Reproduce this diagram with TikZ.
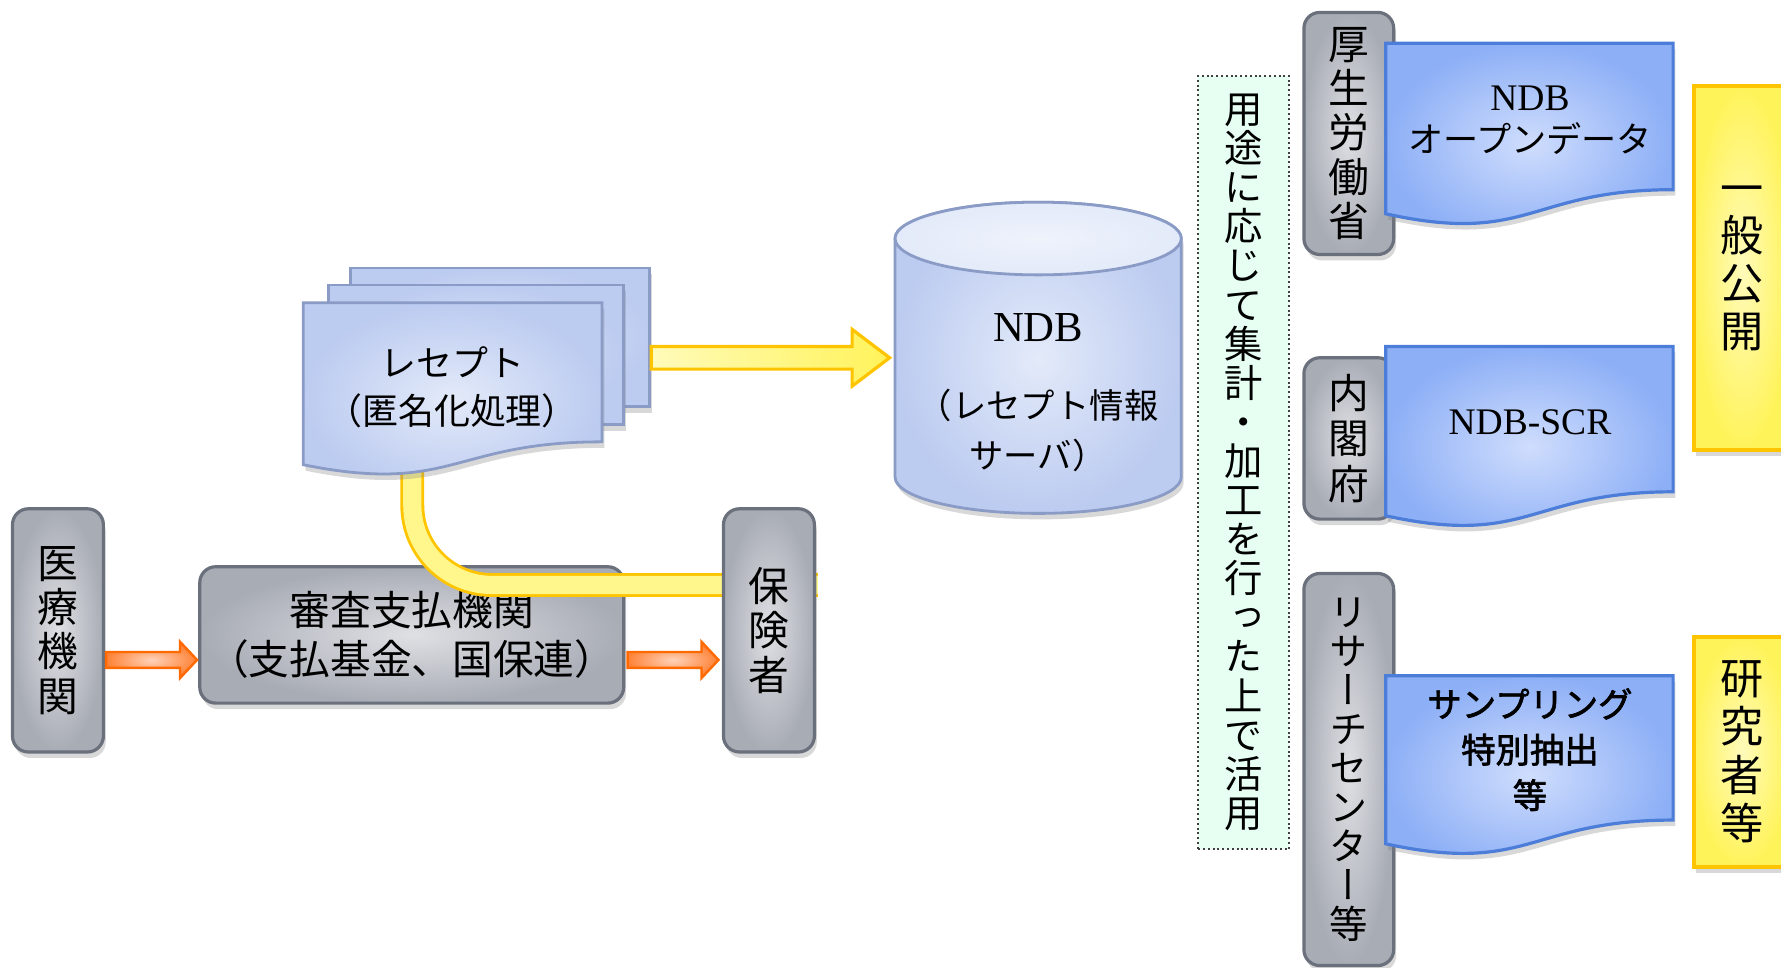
\documentclass[tikz,border=0pt]{standalone}
\usepackage{fontspec}
\setmainfont{Liberation Serif}
\newfontfamily\jp{Noto Sans CJK JP}
\newfontfamily\jpv[RawFeature=+vert]{Noto Sans CJK JP}
\newfontfamily\jpb[AutoFakeBold=2]{Noto Sans CJK JP}
\usetikzlibrary{calc,shadows}

\definecolor{grayedge}{HTML}{A8ACB5}
\definecolor{graymid}{HTML}{DFE0E4}
\definecolor{grayline}{HTML}{6A707C}
\definecolor{palemid}{HTML}{E3EAF9}
\definecolor{paleedge}{HTML}{BCCBF0}
\definecolor{paleline}{HTML}{8A9BC6}
\definecolor{bluemid}{HTML}{CFDDFD}
\definecolor{blueedge}{HTML}{8DAFF6}
\definecolor{blueline}{HTML}{4C7DD8}
\definecolor{yelmid}{HTML}{FFFBBA}
\definecolor{yeledge}{HTML}{FFF35A}
\definecolor{yelline}{HTML}{FFC400}
\definecolor{yelband}{HTML}{FFF78C}
\definecolor{orgmid}{HTML}{FFD2B8}
\definecolor{orgedge}{HTML}{FF8236}
\definecolor{orgline}{HTML}{FF6A00}
\definecolor{mint}{HTML}{E6FFF2}

% wave-bottomed document: style, left x, top y, right x, bottom y at the right
\newcommand\docshape[5]{%
  \path[#1] (#2,#3) -- (#4,#3) -- (#4,#5)
    .. controls ({(#2+#4)/2},#5) and ({(#2+#4)/2},{#3+1.381*(#5-#3)}) .. (#2,{#3+1.1646*(#5-#3)}) -- cycle;}
% flat block arrow: style, from, to, shaft half, head half, head length
\newcommand\blockarrow[6]{%
  \path[#1] let \p1=#2, \p2=#3 in
    (\x1,{\y1+#4}) -- ({\x2-#6},{\y1+#4}) -- ({\x2-#6},{\y1+#5}) -- (\x2,\y1)
    -- ({\x2-#6},{\y1-#5}) -- ({\x2-#6},{\y1-#4}) -- (\x1,{\y1-#4}) -- cycle;}

\tikzset{
  boxshadow/.style={drop shadow={opacity=0.3,shadow xshift=0.6pt,shadow yshift=-1.5pt}},
  graybox/.style={draw=grayline, line width=0.8pt, rounded corners=0.14cm, inner color=graymid, outer color=grayedge, boxshadow, inner sep=0pt},
  vtext/.style={font=\jpv\fontsize{10.2}{11.1}\selectfont, align=center},
  paledoc/.style={draw=paleline, line width=0.7pt, inner color=palemid, outer color=paleedge},
  bluedoc/.style={draw=blueline, line width=0.8pt, inner color=bluemid, outer color=blueedge, boxshadow},
  yelbox/.style={draw=yelline, line width=1pt, inner color=yelmid, outer color=yeledge, boxshadow, inner sep=0pt},
  yelarrow/.style={draw=yelline, line width=0.8pt, left color=yelmid, right color=yeledge},
  orgarrow/.style={draw=orgline, line width=0.6pt, inner color=orgmid, outer color=orgedge},
  yband/.style={line width=0.025cm, draw=yelline, double=yelband, double distance=0.16cm},
  memo/.style={draw=black!75, line width=0.5pt, dash pattern=on 0.5pt off 0.7pt, fill=mint, inner sep=0pt},
  doctext/.style={font=\fontsize{9.4}{10.5}\selectfont, align=center},
}

\begin{document}
\begin{tikzpicture}[x=0.01cm,y=-0.01cm]
  \useasboundingbox (0,0) rectangle (1568,852);
  \clip (0,0) rectangle (1568,852);
  \fill[white] (0,0) rectangle (1568,852);

  % claims flow
  \node[graybox, vtext, minimum width=0.8cm, minimum height=2.14cm] (iryo) at (51,555) {医\\療\\機\\関};
  \node[graybox, font=\jp\fontsize{10.2}{12.2}\selectfont, align=center, minimum width=3.73cm, minimum height=1.2cm] (shinsa) at (362.5,559) {審査支払機関\\（支払基金、国保連）};
  \blockarrow{orgarrow}{($(iryo.east)+(1,26)$)}{($(shinsa.west)+(-1,22)$)}{0.07cm}{0.16cm}{0.15cm}

  \coordinate (bandstart) at (363,395);
  \coordinate (bandend) at (720,515);
  \draw[yband, rounded corners=0.7cm] (bandstart) |- (bandend);

  \node[graybox, vtext, minimum width=0.8cm, minimum height=2.14cm] (hoken) at (677,555) {保\\険\\者};
  \blockarrow{orgarrow}{($(shinsa.east)+(2,22)$)}{($(hoken.west)+(-3,26)$)}{0.07cm}{0.16cm}{0.15cm}

  % receipts
  \node[paledoc, boxshadow, minimum width=2.63cm, minimum height=1.22cm, inner sep=0pt] (rezC) at (440.5,297) {};
  \node[paledoc, boxshadow, minimum width=2.6cm, minimum height=1.23cm, inner sep=0pt] (rezB) at (419,312.5) {};
  \docshape{paledoc, boxshadow}{267}{266.5}{530}{389}
  \node[font=\jp\fontsize{9}{12.2}\selectfont, align=center] (rez) at (398,341) {レセプト\\（匿名化処理）};

  % database
  \path[paledoc, boxshadow] (788,210) -- (788,420) arc[start angle=180, end angle=0, x radius=126, y radius=32]
    -- (1040,210) arc[start angle=0, end angle=-180, x radius=126, y radius=32] -- cycle;
  \path[paledoc, inner color=palemid!60!white, outer color=palemid] (914,210) ellipse[x radius=126, y radius=32];
  \node[font=\jp\fontsize{8.6}{12.5}\selectfont, align=center, minimum width=2.52cm, inner sep=0pt] (ndb) at (914,346)
    {{\rmfamily\fontsize{10.7}{12.5}\selectfont NDB}\\[6.8pt]（レセプト情報\\サーバ）};
  \blockarrow{yelarrow}{($(rezC.east)+(0,18)$)}{($(ndb.west)+(-4,-31)$)}{0.1cm}{0.25cm}{0.33cm}

  \node[memo, vtext, font=\jpv\fontsize{9.6}{9.79}\selectfont, minimum width=0.8cm, minimum height=6.8cm] (katsuyo) at (1095,407)
    {用\\途\\に\\応\\じ\\て\\集\\計\\・\\加\\工\\を\\行\\っ\\た\\上\\で\\活\\用};

  % users
  \node[graybox, vtext, minimum width=0.79cm, minimum height=2.13cm] (kosei) at (1187.5,117.5) {厚\\生\\労\\働\\省};
  \node[graybox, vtext, font=\jpv\fontsize{10.2}{11.4}\selectfont, minimum width=0.79cm, minimum height=1.42cm] (naikaku) at (1187.5,386) {内\\閣\\府};
  \node[graybox, vtext, font=\jpv\fontsize{9.6}{9.75}\selectfont, minimum width=0.79cm, minimum height=3.45cm] (center) at (1187.5,677.5)
    {リ\\サ\\ー\\チ\\セ\\ン\\タ\\ー\\等};

  \docshape{bluedoc}{1220}{38}{1473}{167}
  \node[doctext] (opendata) at (1347,106) {NDB\\{\jp\fontsize{8.8}{10.5}\selectfont オープンデータ}};
  \docshape{bluedoc}{1220}{305}{1473}{433}
  \node[doctext] (scr) at (1347,372) {NDB-SCR};
  \docshape{bluedoc}{1220}{595}{1473}{722}
  \node[font=\jpb\bfseries\fontsize{8.6}{11.4}\selectfont, align=center] (sample) at (1347,660) {サンプリング\\特別抽出\\等};

  \node[yelbox, vtext, font=\jpv\fontsize{10.8}{11.95}\selectfont, minimum width=0.86cm, minimum height=3.2cm] (ippan) at (1534,236) {一\\般\\公\\開};
  \node[yelbox, vtext, font=\jpv\fontsize{10.8}{12.1}\selectfont, minimum width=0.86cm, minimum height=2.02cm] (kenkyu) at (1534,662) {研\\究\\者\\等};
\end{tikzpicture}
\end{document}
